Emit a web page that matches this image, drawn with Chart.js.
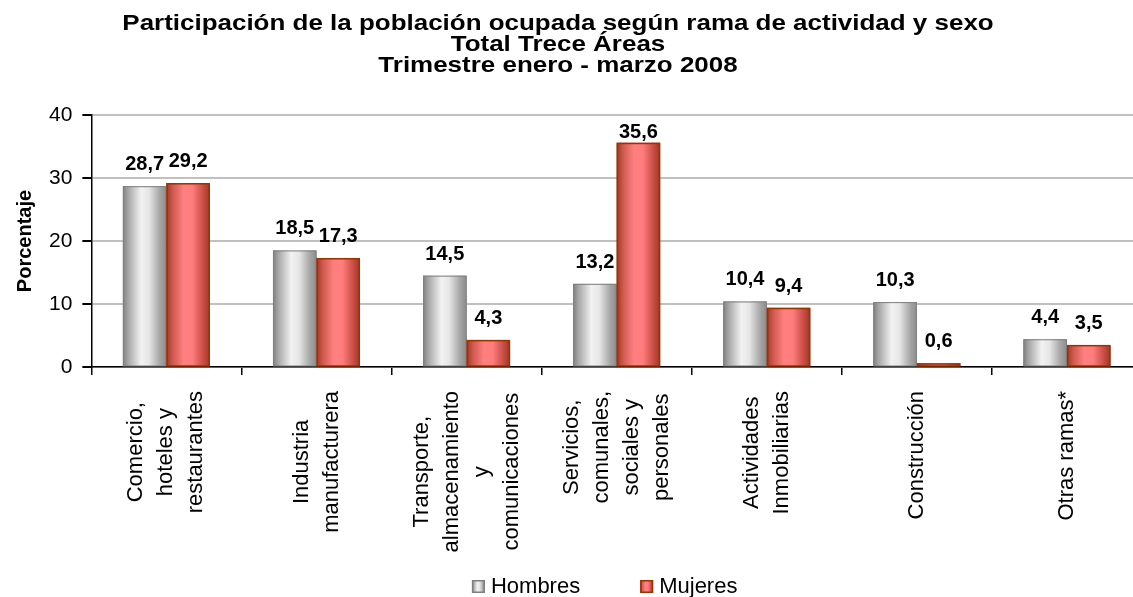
<!DOCTYPE html>
<html>
<head>
<meta charset="utf-8">
<script src="https://cdn.jsdelivr.net/npm/chart.js@4/dist/chart.umd.min.js"></script>
<style>
  html, body { margin: 0; padding: 0; background: #fff; overflow: hidden; }
  #wrap { width: 1150px; height: 597px; }
</style>
</head>
<body>
<div id="wrap"><canvas id="dispChart" width="1150" height="597"></canvas></div>
<script>
  // categories and values
  const ramas = [
    ['Comercio,', 'hoteles y', 'restaurantes'],
    ['Industria', 'manufacturera'],
    ['Transporte,', 'almacenamiento', 'y', 'comunicaciones'],
    ['Servicios,', 'comunales,', 'sociales y', 'personales'],
    ['Actividades', 'Inmobiliarias'],
    ['Construcción'],
    ['Otras ramas*']
  ];
  const hombres = [28.7, 18.5, 14.5, 13.2, 10.4, 10.3, 4.4];
  const mujeres = [29.2, 17.3, 4.3, 35.6, 9.4, 0.6, 3.5];
  const yTicks = [0, 10, 20, 30, 40];

  const titulo = [
    'Participación de la población ocupada según rama de actividad y sexo',
    'Total Trece Áreas',
    'Trimestre enero - marzo 2008'
  ];

  const FONT = 'Arial, "Liberation Sans", sans-serif';

  function shade(ctx, stops, x0, w) {
    const g = ctx.createLinearGradient(x0, 0, x0 + w, 0);
    stops.forEach(s => g.addColorStop(s[0], s[1]));
    return g;
  }

  // cylinder-like shading on every bar, drawn over the library's bar elements
  const shading = {
    id: 'shading',
    afterDatasetsDraw(chart) {
      const ctx = chart.ctx;
      chart.data.datasets.forEach((ds, di) => {
        chart.getDatasetMeta(di).data.forEach((bar) => {
          const p = bar.getProps(['x', 'y', 'base', 'width'], true);
          const x0 = p.x - p.width / 2;
          ctx.save();
          ctx.fillStyle = shade(ctx, ds.stops, x0, p.width);
          ctx.fillRect(x0, p.y, p.width, p.base - p.y);
          ctx.strokeStyle = ds.borderColor;
          ctx.lineWidth = ds.edge;
          ctx.strokeRect(x0 + ds.edge / 2, p.y + ds.edge / 2, p.width - ds.edge, p.base - p.y - ds.edge / 2);
          ctx.restore();
        });
      });
    }
  };

  // value labels above bars, kept inside the plot area
  const valores = {
    id: 'valores',
    afterDatasetsDraw(chart) {
      const ctx = chart.ctx;
      const top = chart.chartArea.top;
      ctx.save();
      ctx.font = 'bold 20px ' + FONT;
      ctx.fillStyle = '#000';
      ctx.textAlign = 'center';
      ctx.textBaseline = 'alphabetic';
      chart.data.datasets.forEach((ds, di) => {
        chart.getDatasetMeta(di).data.forEach((bar, i) => {
          const p = bar.getProps(['x', 'y'], true);
          const yy = Math.max(p.y - 16, top + 23);
          ctx.fillText(ds.data[i].toFixed(1).replace('.', ','), p.x, yy);
        });
      });
      ctx.restore();
    }
  };

  // title, category labels and legend drawn in the style of the original sheet
  const textos = {
    id: 'textos',
    afterDraw(chart) {
      const ctx = chart.ctx;
      const area = chart.chartArea;
      const xs = chart.scales.x;
      ctx.save();
      ctx.fillStyle = '#000';

      // title (wide lettering, as in the original)
      ctx.save();
      ctx.translate(558, 0);
      ctx.scale(1.18, 1);
      ctx.font = 'bold 22px ' + FONT;
      ctx.textAlign = 'center';
      ctx.textBaseline = 'alphabetic';
      titulo.forEach((t, i) => ctx.fillText(t, 0, 30 + i * 21));
      ctx.restore();

      // rotated category labels, lines centered on each other
      ctx.font = '22px ' + FONT;
      ctx.textBaseline = 'middle';
      ramas.forEach((lines, i) => {
        const cx = xs.getPixelForTick(i);
        const longest = Math.max(...lines.map(l => ctx.measureText(l).width));
        const midY = area.bottom + 24 + longest / 2;
        lines.forEach((l, j) => {
          const x = cx + (j - (lines.length - 1) / 2) * 30;
          ctx.save();
          ctx.translate(x, midY);
          ctx.rotate(-Math.PI / 2);
          ctx.textAlign = 'center';
          ctx.fillText(l, 0, 0);
          ctx.restore();
        });
      });

      // legend
      ctx.font = '22px ' + FONT;
      ctx.textAlign = 'left';
      ctx.textBaseline = 'alphabetic';
      const items = chart.data.datasets;
      const widths = items.map(d => 13 + 6 + ctx.measureText(d.label).width);
      const gap = 60;
      const total = widths.reduce((a, b) => a + b, 0) + gap * (items.length - 1);
      let lx = (area.left + area.right) / 2 - 12 - total / 2;
      items.forEach((d, k) => {
        ctx.fillStyle = shade(ctx, d.stops, lx, 13);
        ctx.fillRect(lx, 580, 13, 13);
        ctx.strokeStyle = d.borderColor;
        ctx.lineWidth = 1.5;
        ctx.strokeRect(lx + 0.75, 580.75, 11.5, 11.5);
        ctx.fillStyle = '#000';
        ctx.fillText(d.label, lx + 19, 593);
        lx += widths[k] + gap;
      });
      ctx.restore();
    }
  };

  const data = {
    labels: ramas.map(l => l.join(' ')),
    datasets: [{
      label: 'Hombres',
      data: hombres,
      backgroundColor: '#d9d9d9',
      borderColor: '#808080',
      borderWidth: 1,
      edge: 1,
      stops: [[0, '#7f7f7f'], [0.12, '#a6a6a6'], [0.42, '#f2f2f2'], [0.6, '#e6e6e6'], [0.85, '#a6a6a6'], [1, '#8c8c8c']]
    }, {
      label: 'Mujeres',
      data: mujeres,
      backgroundColor: '#ff8080',
      borderColor: '#993300',
      borderWidth: 1.5,
      edge: 1.5,
      stops: [[0, '#9c3a26'], [0.15, '#d05a50'], [0.4, '#ff8080'], [0.6, '#ff7c7c'], [0.85, '#c84c44'], [1, '#9c3a26']]
    }]
  };

  const config = {
    type: 'bar',
    data: data,
    options: {
      responsive: false,
      animation: false,
      layout: { padding: { left: 13, right: 8, top: 115, bottom: 222 } },
      datasets: { bar: { categoryPercentage: 0.58, barPercentage: 1 } },
      plugins: {
        title: { display: false },
        legend: { display: false },
        tooltip: { enabled: false }
      },
      scales: {
        x: {
          grid: { drawOnChartArea: false, drawTicks: true, tickLength: 8, tickColor: '#000', lineWidth: 1.5 },
          border: { color: '#000', width: 1.5 },
          ticks: { display: false }
        },
        y: {
          min: 0,
          max: 40,
          afterBuildTicks: (axis) => { axis.ticks = yTicks.map(v => ({ value: v })); },
          grid: { color: '#c0c0c0', lineWidth: 2, tickLength: 9, tickColor: '#000' },
          border: { color: '#000', width: 1.5 },
          ticks: {
            color: '#000',
            padding: 10,
            font: { family: FONT, size: 21 }
          },
          title: {
            display: true,
            text: 'Porcentaje',
            color: '#000',
            padding: { top: 0, bottom: 2 },
            font: { family: FONT, size: 20, weight: 'bold', lineHeight: 1.2 }
          }
        }
      }
    },
    plugins: [shading, valores, textos]
  };

  const myChart = new Chart(document.getElementById('dispChart'), config);
</script>
</body>
</html>
